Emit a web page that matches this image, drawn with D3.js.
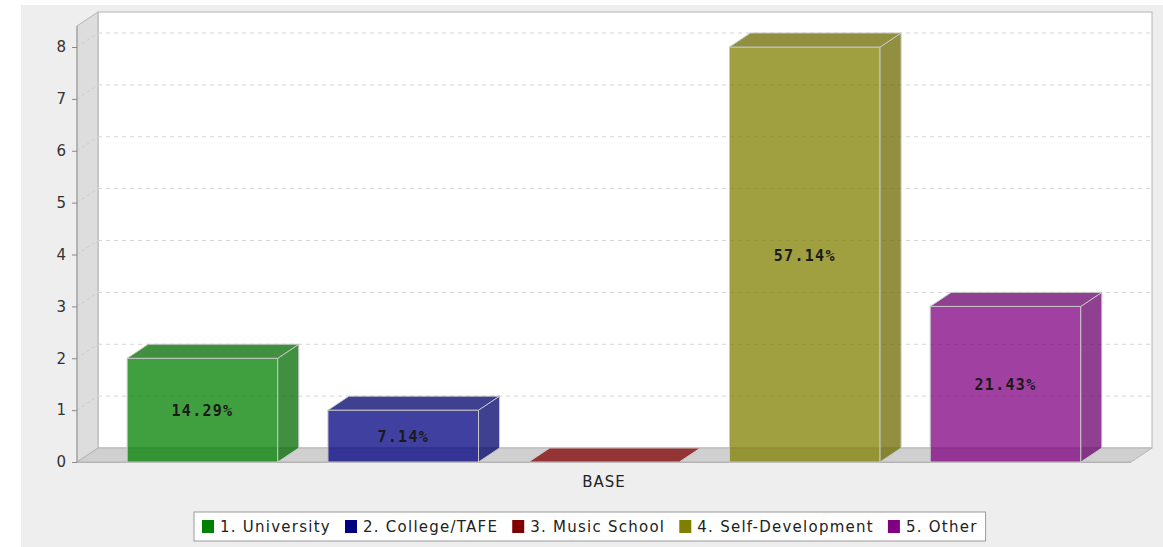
<!DOCTYPE html>
<html>
<head>
<meta charset="utf-8">
<script src="https://cdn.jsdelivr.net/npm/d3@7"></script>
<style>
    body { margin: 0; background: #ffffff; }
    .tick-label { font-family: "DejaVu Sans", sans-serif; font-size: 15px; fill: #333333; }
    .bar-text { font-family: "DejaVu Sans Mono", monospace; font-size: 15px; font-weight: bold; fill: #1a1a1a; letter-spacing: 1.3px; }
    .axis-text { font-family: "DejaVu Sans", sans-serif; font-size: 15px; fill: #222222; letter-spacing: 1px; }
    .legend-text { font-family: "DejaVu Sans", sans-serif; font-size: 15px; fill: #222222; letter-spacing: 1.25px; }
</style>
</head>
<body>
<div id="chart"></div>
<script>
const categories = ["BASE"];
const seriesNames = ["1. University", "2. College/TAFE", "3. Music School", "4. Self-Development", "5. Other"];
const seriesValues = [2, 1, 0, 8, 3];
const percentLabels = ["14.29%", "7.14%", "", "57.14%", "21.43%"];
const seriesColors = ["#008000", "#000080", "#800000", "#808000", "#800080"];
const yTicks = [0, 1, 2, 3, 4, 5, 6, 7, 8];

const width = 1163, height = 547;
const depthX = 21, depthY = 14;           // 3D offset
const plotLeft = 77, plotRight = 1131, plotTop = 26, plotBottom = 462;

const svg = d3.select('#chart')
    .append('svg')
    .attr('width', width)
    .attr('height', height);

// chart background
svg.append('rect')
    .attr('x', 21).attr('y', 5)
    .attr('width', width - 21).attr('height', height - 5)
    .attr('fill', '#eeeeee');

const yScale = d3.scaleLinear()
    .domain([0, 8.405])
    .range([plotBottom, plotTop]);

const xScale = d3.scaleBand()
    .domain(seriesNames)
    .range([plotLeft, plotRight])
    .paddingInner(0.25)
    .paddingOuter(0.25);

const catScale = d3.scaleBand()
    .domain(categories)
    .range([plotLeft, plotRight]);

// back wall
svg.append('rect')
    .attr('x', plotLeft + depthX).attr('y', plotTop - depthY)
    .attr('width', plotRight - plotLeft).attr('height', plotBottom - plotTop)
    .attr('fill', '#ffffff')
    .attr('stroke', '#b4b4b4');

// left wall
svg.append('polygon')
    .attr('points', [[plotLeft, plotTop], [plotLeft + depthX, plotTop - depthY], [plotLeft + depthX, plotBottom - depthY], [plotLeft, plotBottom]].join(' '))
    .attr('fill', '#dddddd')
    .attr('stroke', '#b4b4b4');

// floor
svg.append('polygon')
    .attr('points', [[plotLeft, plotBottom], [plotLeft + depthX, plotBottom - depthY], [plotRight + depthX, plotBottom - depthY], [plotRight, plotBottom]].join(' '))
    .attr('fill', '#d0d0d0')
    .attr('stroke', '#b4b4b4');

// gridlines (back wall + left wall)
const grid = svg.append('g');
yTicks.filter(t => t > 0).forEach(t => {
    grid.append('line')
        .attr('x1', plotLeft + depthX).attr('x2', plotRight + depthX)
        .attr('y1', yScale(t) - depthY).attr('y2', yScale(t) - depthY)
        .attr('stroke', '#d4d4d4')
        .attr('stroke-dasharray', '4,4');
    grid.append('line')
        .attr('x1', plotLeft).attr('x2', plotLeft + depthX)
        .attr('y1', yScale(t)).attr('y2', yScale(t) - depthY)
        .attr('stroke', '#cccccc')
        .attr('stroke-dasharray', '3,3');
});

// y axis
const yAxis = svg.append('g')
    .attr('transform', 'translate(' + plotLeft + ',0)')
    .call(d3.axisLeft(yScale).tickValues(yTicks).tickSize(5).tickPadding(6));
yAxis.select('.domain').attr('stroke', '#999999').attr('d', 'M0,' + plotTop + 'V' + plotBottom);
yAxis.selectAll('.tick line').attr('stroke', '#888888');
yAxis.selectAll('.tick text').attr('class', 'tick-label').attr('fill', null);
yAxis.attr('font-size', null).attr('font-family', null);

// x axis line
svg.append('line')
    .attr('x1', plotLeft).attr('x2', plotRight)
    .attr('y1', plotBottom + 0.5).attr('y2', plotBottom + 0.5)
    .attr('stroke', '#b4b4b4');

// bars
const bars = svg.append('g').selectAll('g')
    .data(seriesValues)
    .enter()
    .append('g');

const darker = c => d3.rgb(c).darker(0.5);

bars.each(function (d, i) {
    const g = d3.select(this);
    const x0 = xScale(seriesNames[i]);
    const x1 = x0 + xScale.bandwidth();
    const yv = yScale(d);
    const y0 = yScale(0);
    const stroke = '#c8c8c8';
    if (d > 0) {
        g.append('rect')
            .attr('x', x0).attr('y', yv)
            .attr('width', x1 - x0).attr('height', y0 - yv)
            .attr('fill', seriesColors[i]).attr('fill-opacity', 0.75)
            .attr('stroke', stroke);
        g.append('polygon')
            .attr('points', [[x1, yv], [x1 + depthX, yv - depthY], [x1 + depthX, y0 - depthY], [x1, y0]].join(' '))
            .attr('fill', darker(seriesColors[i])).attr('fill-opacity', 0.75)
            .attr('stroke', stroke);
    }
    g.append('polygon')
        .attr('points', [[x0, yv], [x0 + depthX, yv - depthY], [x1 + depthX, yv - depthY], [x1, yv]].join(' '))
        .attr('fill', d > 0 ? darker(seriesColors[i]) : seriesColors[i]).attr('fill-opacity', 0.75)
        .attr('stroke', stroke);
});

// bar labels
bars.append('text')
    .attr('class', 'bar-text')
    .attr('x', (d, i) => xScale(seriesNames[i]) + xScale.bandwidth() / 2)
    .attr('y', d => (yScale(d) + yScale(0)) / 2 + 6)
    .attr('text-anchor', 'middle')
    .text((d, i) => percentLabels[i]);

// category label
svg.append('text')
    .attr('class', 'axis-text')
    .attr('x', catScale(categories[0]) + catScale.bandwidth() / 2)
    .attr('y', 487)
    .attr('text-anchor', 'middle')
    .text(categories[0]);

// legend
const legend = svg.append('g');
const legendBox = legend.append('rect')
    .attr('y', 512).attr('height', 29)
    .attr('fill', '#ffffff')
    .attr('stroke', '#999999');
let lx = 0;
seriesNames.forEach((name, i) => {
    const item = legend.append('g');
    item.append('rect')
        .attr('x', lx).attr('y', 520)
        .attr('width', 12).attr('height', 13)
        .attr('fill', seriesColors[i]);
    const t = item.append('text')
        .attr('class', 'legend-text')
        .attr('x', lx + 18).attr('y', 532)
        .text(name);
    lx += 18 + t.node().getComputedTextLength() + 14;
});
const legendWidth = lx - 14;
const legendStart = 202;
legend.selectAll('g').attr('transform', 'translate(' + legendStart + ',0)');
legendBox.attr('x', legendStart - 8).attr('width', legendWidth + 16);
</script>
</body>
</html>
